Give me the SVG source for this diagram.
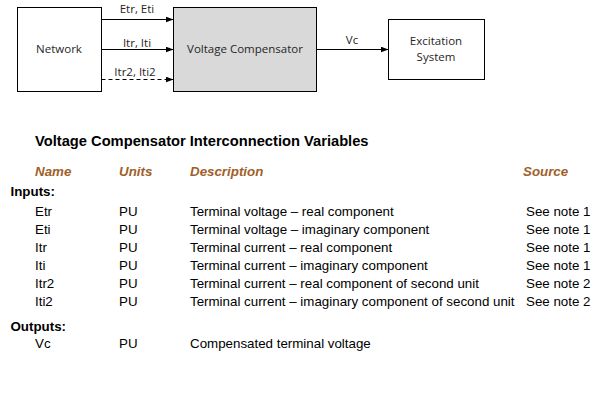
<svg xmlns="http://www.w3.org/2000/svg" width="600" height="409" viewBox="0 0 600 409">
<style>
.box{fill:#fff;stroke:#000;stroke-width:1}
.gray{fill:#d9d9d9}
.dl{font-family:"Open Sans","Liberation Sans",sans-serif;font-size:11.5px;fill:#262626}
.ln{stroke:#000;stroke-width:1;fill:none}
.dash{stroke-dasharray:4,3}
.t{font-family:"Liberation Sans",Arial,sans-serif;font-size:13.33px;fill:#000}
.b{font-weight:bold}
.h{font-family:"Liberation Sans",Arial,sans-serif;font-size:13.33px;font-weight:bold;font-style:italic;fill:#a0602a}
</style>
<defs>
<marker id="ah" markerWidth="8" markerHeight="6" refX="8" refY="3" orient="auto" markerUnits="userSpaceOnUse">
<path d="M0,0 L8,3 L0,6 Z" fill="#000"/>
</marker>
</defs>
<rect width="600" height="409" fill="#fff"/>
<g id="network">
<rect class="box" x="17.5" y="7.5" width="84" height="84"/>
<text class="dl" x="59" y="53" text-anchor="middle">Network</text>
</g>
<g id="compensator">
<rect class="box gray" x="173.5" y="7.5" width="143" height="84"/>
<text class="dl" x="245" y="53" text-anchor="middle">Voltage Compensator</text>
</g>
<g id="excitation">
<rect class="box" x="388.5" y="19.5" width="96" height="60"/>
<text class="dl" x="436" y="45" text-anchor="middle">Excitation</text>
<text class="dl" x="436" y="61" text-anchor="middle">System</text>
</g>
<g id="connectors">
<line class="ln" x1="101.5" y1="19.5" x2="173.5" y2="19.5" marker-end="url(#ah)"/>
<line class="ln" x1="101.5" y1="49.5" x2="173.5" y2="49.5" marker-end="url(#ah)"/>
<line class="ln dash" x1="101.5" y1="79.5" x2="173.5" y2="79.5" marker-end="url(#ah)"/>
<line class="ln" x1="316.5" y1="49.5" x2="388.5" y2="49.5" marker-end="url(#ah)"/>
<text class="dl" x="137" y="13" text-anchor="middle">Etr, Eti</text>
<text class="dl" x="137" y="46.5" text-anchor="middle">Itr, Iti</text>
<text class="dl" x="135" y="76" text-anchor="middle">Itr2, Iti2</text>
<text class="dl" x="352" y="43.5" text-anchor="middle">Vc</text>
</g>
<g id="table">
<text class="t b" x="35" y="146" style="font-size:14.7px">Voltage Compensator Interconnection Variables</text>
<text class="h" x="35" y="176">Name</text>
<text class="h" x="119" y="176">Units</text>
<text class="h" x="190" y="176">Description</text>
<text class="h" x="523" y="176">Source</text>
<text class="t b" x="10.5" y="195.5">Inputs:</text>
<text class="t" x="35" y="216">Etr</text>
<text class="t" x="119" y="216">PU</text>
<text class="t" x="190" y="216">Terminal voltage – real component</text>
<text class="t" x="526" y="216">See note 1</text>
<text class="t" x="35" y="234">Eti</text>
<text class="t" x="119" y="234">PU</text>
<text class="t" x="190" y="234">Terminal voltage – imaginary component</text>
<text class="t" x="526" y="234">See note 1</text>
<text class="t" x="35" y="252">Itr</text>
<text class="t" x="119" y="252">PU</text>
<text class="t" x="190" y="252">Terminal current – real component</text>
<text class="t" x="526" y="252">See note 1</text>
<text class="t" x="35" y="270">Iti</text>
<text class="t" x="119" y="270">PU</text>
<text class="t" x="190" y="270">Terminal current – imaginary component</text>
<text class="t" x="526" y="270">See note 1</text>
<text class="t" x="35" y="288">Itr2</text>
<text class="t" x="119" y="288">PU</text>
<text class="t" x="190" y="288">Terminal current – real component of second unit</text>
<text class="t" x="526" y="288">See note 2</text>
<text class="t" x="35" y="306">Iti2</text>
<text class="t" x="119" y="306">PU</text>
<text class="t" x="190" y="306">Terminal current – imaginary component of second unit</text>
<text class="t" x="526" y="306">See note 2</text>
<text class="t b" x="10.5" y="331">Outputs:</text>
<text class="t" x="35" y="348">Vc</text>
<text class="t" x="119" y="348">PU</text>
<text class="t" x="190" y="348">Compensated terminal voltage</text>
</g>
</svg>
